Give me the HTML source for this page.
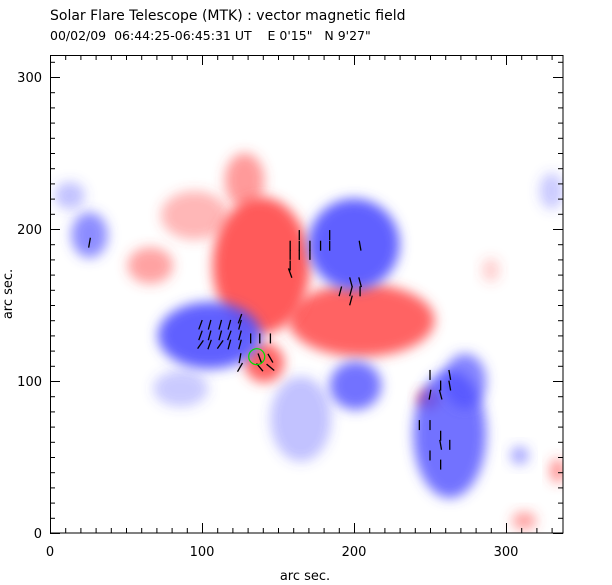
<!DOCTYPE html>
<html><head><meta charset="utf-8">
<style>
body{margin:0;background:#fff;}
svg{display:block;font-family:"DejaVu Sans","Liberation Sans",sans-serif;}
</style></head>
<body>
<svg id="chart" width="612" height="585" viewBox="0 0 612 585">
<defs>
<filter id="blur" x="-50%" y="-50%" width="200%" height="200%"><feGaussianBlur stdDeviation="6"/></filter>
<clipPath id="plotclip"><rect x="50" y="55" width="513" height="478"/></clipPath>
</defs>
<text x="50" y="20" font-size="14" fill="#000">Solar Flare Telescope (MTK) : vector magnetic field</text>
<text x="50" y="40" font-size="12.5" fill="#000" xml:space="preserve">00/02/09  06:44:25-06:45:31 UT    E 0'15"   N 9'27"</text>
<g id="blobs" clip-path="url(#plotclip)"></g>
<g id="arrows"></g>
<g id="axes"></g>
<text x="305" y="580" font-size="13" text-anchor="middle">arc sec.</text>
<text transform="translate(12,294) rotate(-90)" font-size="13" text-anchor="middle">arc sec.</text>
</svg>
<script>
// field blobs: x, y (arc sec), rx, ry (arc sec), polarity (+1 red, -1 blue), strength
const blobX = [165,86,128,66,95,205,141,249,312,334,290,139, 105,26,13,201,263,273,309,330];
const blobY = [75,95,232,176,209,140,112,88,8,41,173,176, 130,196,222,97,65,100,51,225];
const blobRX= [20,18,13,15,22,48,13,7,8,5,6,32, 34,12,10,17,24,14,6,8];
const blobRY= [28,12,18,12,16,24,13,6,6,8,8,45, 22,15,9,16,42,18,6,12];
const blobPol=[-1,-1,1,1,1,1,1,1,1,1,1,1, -1,-1,-1,-1,-1,-1,-1,-1];
const blobStr=[0.35,0.3,0.55,0.5,0.4,0.85,0.85,0.9,0.5,0.6,0.25,0.9, 0.9,0.65,0.35,0.8,0.8,0.7,0.5,0.3];
// extra blue top-right (drawn last)
const topBlueX=[200], topBlueY=[190], topBlueR=[30];
// vectors: x, y (arc sec), angle (deg from vertical)
const vecX=[164,158,164,171,178,184,184,158,164,171,158,158,204,198,204,191,198,204,198,
 99,105,112,118,125,99,105,112,118,125,99,105,112,118,125,125,132,138,145,125,138,145,125,138,145,
 250,263,257,263,250,257,243,250,257,257,263,250,257,26];
const vecY=[196,189,189,189,189,189,196,183,183,183,176,171,189,165,165,159,159,159,153,
 137,137,137,137,137,130,130,130,130,130,124,124,124,124,124,141,128,128,128,115,115,115,109,109,109,
 104,104,97,97,91,91,71,71,64,58,58,51,45,191];
const vecA=[0,0,0,0,0,0,0,0,0,0,0,20,10,15,15,-15,-15,0,-15,
 -20,-15,-15,-15,-15,-20,-15,-15,-20,-15,-35,-20,-35,-15,-15,-20,0,0,0,-10,20,30,-30,40,50,
 0,10,0,10,-10,15,0,0,0,10,0,0,0,-10];
const ns='http://www.w3.org/2000/svg';
const X0=50,Y0=533,S=1.52;
const sx=v=>X0+v*S, sy=v=>Y0-v*S;
const bg=document.getElementById('blobs');
for(let i=0;i<blobX.length;i++){
  const e=document.createElementNS(ns,'ellipse');
  e.setAttribute('cx',sx(blobX[i]));e.setAttribute('cy',sy(blobY[i]));
  e.setAttribute('rx',blobRX[i]*S);e.setAttribute('ry',blobRY[i]*S);
  e.setAttribute('fill',blobPol[i]>0?'#ff4848':'#5050ff');
  e.setAttribute('fill-opacity',blobStr[i]);
  e.setAttribute('filter','url(#blur)');
  
  
  bg.appendChild(e);
}
for(let i=0;i<topBlueX.length;i++){
  const e=document.createElementNS(ns,'circle');
  e.setAttribute('cx',sx(topBlueX[i]));e.setAttribute('cy',sy(topBlueY[i]));
  e.setAttribute('r',topBlueR[i]*S);
  e.setAttribute('fill','#5050ff');e.setAttribute('fill-opacity',0.9);
  e.setAttribute('filter','url(#blur)');
  
  
  bg.appendChild(e);
}
const ag=document.getElementById('arrows');
for(let i=0;i<vecX.length;i++){
  const cx=sx(vecX[i]),cy=sy(vecY[i]),a=vecA[i]*Math.PI/180,L=5;
  const l=document.createElementNS(ns,'line');
  l.setAttribute('x1',cx-L*Math.sin(a));l.setAttribute('y1',cy-L*Math.cos(a));
  l.setAttribute('x2',cx+L*Math.sin(a));l.setAttribute('y2',cy+L*Math.cos(a));
  l.setAttribute('stroke','#000');l.setAttribute('stroke-width','1.3');
  
  
  ag.appendChild(l);
}
const circ=document.createElementNS(ns,'circle');
circ.setAttribute('cx',sx(136));circ.setAttribute('cy',sy(116));circ.setAttribute('r',8);
circ.setAttribute('fill','none');circ.setAttribute('stroke','#00dd00');circ.setAttribute('stroke-width','1.2');


ag.appendChild(circ);
// axes
const xTicks=[0,100,200,300], yTicks=[0,100,200,300];
const ax=document.getElementById('axes');
function ln(x1,y1,x2,y2){const l=document.createElementNS(ns,'line');
 l.setAttribute('x1',x1);l.setAttribute('y1',y1);l.setAttribute('x2',x2);l.setAttribute('y2',y2);
 l.setAttribute('stroke','#000');l.setAttribute('stroke-width','1');
 
 
 ax.appendChild(l);return l;}
const fr=document.createElementNS(ns,'rect');
fr.setAttribute('x',50.5);fr.setAttribute('y',55.5);fr.setAttribute('width',512.5);fr.setAttribute('height',477.5);
fr.setAttribute('fill','none');fr.setAttribute('stroke','#000');


ax.appendChild(fr);
for(let v=0;v<=337;v+=10){const x=sx(v)+0.5,len=v%100===0?10:5;ln(x,533,x,533-len);ln(x,55,x,55+len);}
for(let v=0;v<=314;v+=10){const y=sy(v)+0.5,len=v%100===0?10:5;ln(50,y,50+len,y);ln(563,y,563-len,y);}
xTicks.forEach(v=>{const t=document.createElementNS(ns,'text');t.setAttribute('x',sx(v));t.setAttribute('y',556);
 t.setAttribute('font-size','13');t.setAttribute('text-anchor','middle');t.textContent=v;
 
 
 ax.appendChild(t);});
yTicks.forEach(v=>{const t=document.createElementNS(ns,'text');t.setAttribute('x',42);t.setAttribute('y',sy(v)+5);
 t.setAttribute('font-size','13');t.setAttribute('text-anchor','end');t.textContent=v;
 
 
 ax.appendChild(t);});
</script>
</body></html>
